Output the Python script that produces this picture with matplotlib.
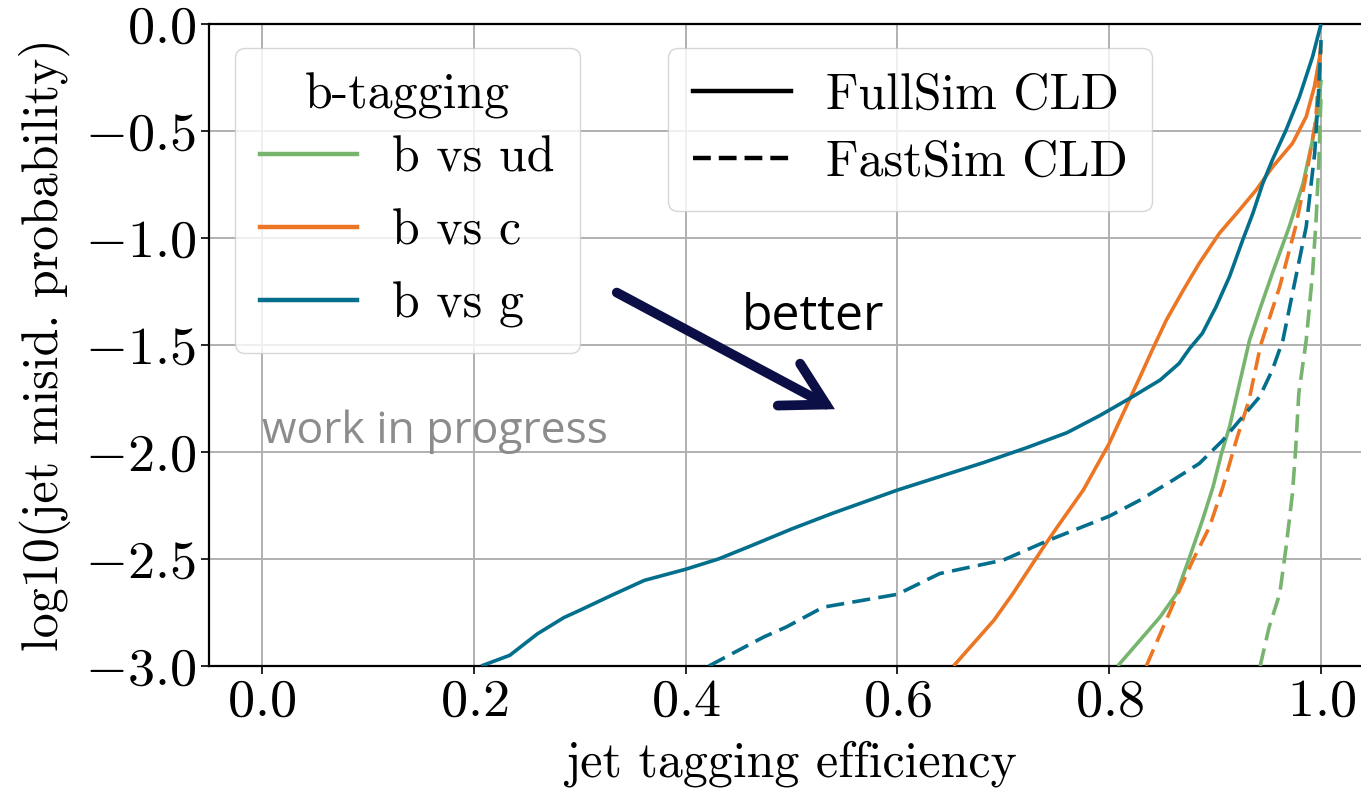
import matplotlib
matplotlib.use("Agg")
import matplotlib.pyplot as plt
from matplotlib.lines import Line2D

plt.rcParams.update({
    "font.family": "serif",
    "font.serif": ["cmr10"],
    "mathtext.fontset": "cm",
    "axes.formatter.use_mathtext": True,
    "axes.unicode_minus": True,
})

# ROC curves: jet tagging efficiency vs log10(misidentification probability)
ud_full_x = [0.808, 0.829, 0.848, 0.8636, 0.876, 0.888, 0.898, 0.906, 0.9136, 0.923, 0.9325,
             0.942, 0.954, 0.970, 0.983, 0.992, 0.998, 1.0]
ud_full_y = [-3.0, -2.88, -2.771, -2.662, -2.49, -2.319, -2.163, -2.007, -1.882, -1.68, -1.477,
             -1.336, -1.165, -0.947, -0.745, -0.542, -0.37, -0.26]

c_full_x = [0.653, 0.666, 0.691, 0.709, 0.738, 0.751, 0.7755, 0.8, 0.829, 0.8413, 0.854,
            0.870, 0.885, 0.904, 0.923, 0.9387, 0.9544, 0.973, 0.986, 0.9937, 1.0]
c_full_y = [-3.0, -2.927, -2.787, -2.662, -2.444, -2.35, -2.178, -1.96, -1.65, -1.516, -1.383,
            -1.243, -1.118, -0.978, -0.869, -0.776, -0.667, -0.558, -0.433, -0.293, -0.12]

g_full_x = [0.207, 0.234, 0.26, 0.285, 0.30, 0.33, 0.361, 0.40, 0.431, 0.461, 0.50, 0.539,
            0.60, 0.681, 0.722, 0.76, 0.791, 0.8195, 0.848, 0.866, 0.876, 0.888, 0.901,
            0.9136, 0.926, 0.9356, 0.945, 0.954, 0.967, 0.9796, 0.992, 1.0]
g_full_y = [-3.0, -2.95, -2.85, -2.774, -2.74, -2.67, -2.60, -2.548, -2.50, -2.44, -2.36, -2.286,
            -2.178, -2.05, -1.98, -1.91, -1.83, -1.749, -1.664, -1.586, -1.516, -1.445, -1.32,
            -1.18, -1.01, -0.885, -0.745, -0.636, -0.495, -0.34, -0.153, 0.0]

ud_fast_x = [0.9425, 0.951, 0.961, 0.967, 0.973, 0.976, 0.979, 0.986, 0.992, 0.9953, 0.998, 1.0]
ud_fast_y = [-3.0, -2.818, -2.662, -2.444, -2.194, -1.99, -1.726, -1.477, -1.165, -0.916,
             -0.636, -0.32]

c_fast_x = [0.835, 0.851, 0.8633, 0.879, 0.8947, 0.9073, 0.92, 0.932, 0.943, 0.961, 0.976,
            0.987, 0.995, 1.0]
c_fast_y = [-3.0, -2.818, -2.678, -2.506, -2.35, -2.163, -1.945, -1.757, -1.5, -1.227, -0.947,
            -0.682, -0.449, -0.075]

g_fast_x = [0.422, 0.444, 0.474, 0.495, 0.53, 0.60, 0.64, 0.70, 0.744, 0.80, 0.829, 0.86,
            0.885, 0.9073, 0.926, 0.942, 0.954, 0.964, 0.973, 0.986, 0.994, 0.998, 1.0]
g_fast_y = [-3.0, -2.942, -2.864, -2.818, -2.725, -2.665, -2.568, -2.505, -2.41, -2.30, -2.225,
            -2.132, -2.054, -1.945, -1.835, -1.742, -1.617, -1.477, -1.259, -0.947, -0.604,
            -0.293, -0.075]

labels = ["b vs ud", "b vs c", "b vs g"]
colors = ["#77b56f", "#ec7623", "#036f8d"]
sim_labels = ["FullSim CLD", "FastSim CLD"]

x_ticks = [0.0, 0.2, 0.4, 0.6, 0.8, 1.0]
y_ticks = [0.0, -0.5, -1.0, -1.5, -2.0, -2.5, -3.0]

FS = 36
TICK_FS = 39
LW = 2.6
DASH = (5.0, 2.3)

fig = plt.figure(figsize=(13.61, 7.92), dpi=100)
ax = fig.add_axes([209 / 1361, 1 - 666 / 792, 1165 / 1361, 642 / 792])

full = [(ud_full_x, ud_full_y), (c_full_x, c_full_y), (g_full_x, g_full_y)]
fast = [(ud_fast_x, ud_fast_y), (c_fast_x, c_fast_y), (g_fast_x, g_fast_y)]
for (x, y), col in zip(full, colors):
    ax.plot(x, y, color=col, lw=LW, solid_capstyle="butt", zorder=3)
for (x, y), col in zip(fast, colors):
    ax.plot(x, y, color=col, lw=LW, ls="--", dashes=DASH, zorder=3)

ax.set_xlim(-0.05, 1.05)
ax.set_ylim(-3.0, 0.0)
ax.set_xticks(x_ticks)
ax.set_yticks(y_ticks)
ax.grid(True, color="#b0b0b0", lw=1.4)
ax.set_axisbelow(True)
ax.tick_params(labelsize=TICK_FS, length=6, width=1.2, direction="out")
for s in ax.spines.values():
    s.set_linewidth(1.6)

ax.set_xlabel("jet tagging efficiency", fontsize=FS, labelpad=10)
ax.set_ylabel("log10(jet misid. probability)", fontsize=FS, labelpad=10)

leg_kw = dict(fontsize=FS, frameon=True, fancybox=True, framealpha=0.8,
              edgecolor="#cccccc", borderaxespad=0, handlelength=1.95,
              handletextpad=0.7, loc="upper left", borderpad=0.5)
h1 = [Line2D([], [], color=c, lw=LW + 0.6) for c in colors]
leg1 = ax.legend(h1, labels, title="b-tagging", title_fontsize=FS,
                 labelspacing=0.55, bbox_to_anchor=(0.0223, 0.9626), **leg_kw)
# tighter gap between the title and the first entry
leg1._legend_box.sep = 0.32 * FS
ax.add_artist(leg1)
h2 = [Line2D([], [], color="black", lw=LW + 0.6),
      Line2D([], [], color="black", lw=LW + 0.6, ls="--", dashes=(4.0, 1.8))]
ax.legend(h2, sim_labels, labelspacing=0.42,
          bbox_to_anchor=(0.394, 0.9626), **leg_kw)

ax.text(0.0, -1.907, "work in progress", fontsize=32, color="#8c8c8c",
        family=["Open Sans", "DejaVu Sans"], va="center", ha="left", zorder=4)
ax.text(0.453, -1.37, "better", fontsize=36, color="black",
        family=["Open Sans", "DejaVu Sans"], va="center", ha="left", zorder=4)
ax.annotate("", xy=(0.541, -1.80), xytext=(0.335, -1.255),
            arrowprops=dict(arrowstyle="->,head_length=0.8,head_width=0.45",
                            lw=7, color="#0c0f45", capstyle="round",
                            shrinkA=0, shrinkB=0, mutation_scale=38,
                            joinstyle="miter"),
            zorder=5)

fig.savefig("out.png", dpi=100)
